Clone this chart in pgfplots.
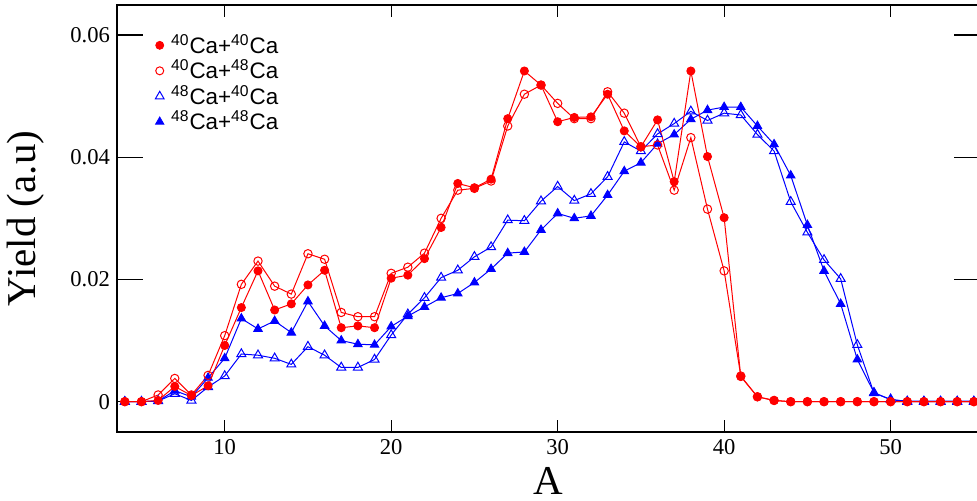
\documentclass[border=0pt]{standalone}
\usepackage{fontspec}
\setmainfont{Liberation Serif}
\newfontfamily\legfont{Liberation Sans}
\newfontfamily\tickfont{Liberation Serif}
\usepackage{pgfplots}
\usepackage{pgfplotstable}
\pgfplotsset{compat=1.18}
\definecolor{cred}{RGB}{255,0,0}
\definecolor{cblue}{RGB}{0,0,255}

\pgfplotstableread{
A  ff    fo    to    tf
4  0      0      0      0
5  0      0      0      0
6  0.0002 0.0011 0.0001 0.0001
7  0.0025 0.0038 0.0013 0.0018
8  0.0010 0.0011 0.0002 0.0008
9  0.0026 0.0043 0.0024 0.0039
10 0.0092 0.0108 0.0042 0.0071
11 0.0154 0.0192 0.0078 0.0136
12 0.0214 0.0230 0.0076 0.0119
13 0.0150 0.0189 0.0071 0.0132
14 0.0160 0.0176 0.0061 0.0113
15 0.0191 0.0242 0.0090 0.0164
16 0.0215 0.0233 0.0076 0.0124
17 0.0121 0.0146 0.0056 0.0100
18 0.0124 0.0139 0.0056 0.0094
19 0.0121 0.0139 0.0069 0.0093
20 0.0202 0.0210 0.0109 0.0123
21 0.0207 0.0220 0.0143 0.0140
22 0.0234 0.0243 0.0170 0.0155
23 0.0285 0.0300 0.0203 0.0170
24 0.0357 0.0346 0.0215 0.0177
25 0.0350 0.0349 0.0237 0.0195
26 0.0364 0.0361 0.0253 0.0217
27 0.0463 0.0451 0.0297 0.0243
28 0.0541 0.0503 0.0296 0.0245
29 0.0518 0.0518 0.0328 0.0281
30 0.0458 0.0488 0.0352 0.0308
31 0.0465 0.0463 0.0329 0.0300
32 0.0466 0.0463 0.0340 0.0304
33 0.0503 0.0507 0.0368 0.0338
34 0.0443 0.0472 0.0425 0.0377
35 0.0417 0.0417 0.0410 0.0391
36 0.0461 0.0420 0.0438 0.0422
37 0.0360 0.0346 0.0455 0.0437
38 0.0541 0.0432 0.0475 0.0462
39 0.0401 0.0315 0.0460 0.0477
40 0.0301 0.0214 0.0472 0.0482
41 0.0041 0.0042 0.0469 0.0482
42 0.0008 0.0008 0.0437 0.0451
43 0.0002 0.0002 0.0410 0.0421
44 0      0      0.0327 0.0370
45 0      0      0.0277 0.0289
46 0      0      0.0232 0.0214
47 0      0      0.0201 0.0160
48 0      0      0.0093 0.0069
49 0      0      0.0014 0.0015
50 0      0      0.0004 0.0003
51 0      0      0      0.0001
52 0      0      0      0.0001
53 0      0      0      0.0001
54 0      0      0      0.0001
55 0      0      0      0.0001
}\datatable

\begin{document}
\begin{tikzpicture}
\begin{axis}[
  at={(58.5pt,34.5pt)}, anchor=south west,
  scale only axis, width=431.5pt, height=213.5pt,
  xmin=3.53, xmax=55.37, ymin=-0.00496, ymax=0.0649,
  xtick={10,20,30,40,50}, ytick={0,0.02,0.04,0.06},
  xticklabels={10,20,30,40,50},
  yticklabels={0,0.02,0.04,0.06},
  scaled y ticks=false,
  tick label style={font=\tickfont\fontsize{11.3}{13}\selectfont},
  xtick style={/pgfplots/major tick length=5.8pt},
  ytick style={/pgfplots/major tick length=13pt},
  tick style={line width=0.6pt, black},
  axis line style={line width=0.7pt, black},
  minor tick num=0,
  xlabel={A}, ylabel={Yield (a.u)},
  label style={font=\fontsize{20.5}{24}\selectfont},
  xlabel style={at={(axis description cs:0.5,-0.1475)}, anchor=base},
  ylabel style={at={(axis description cs:-0.1054,0.5)}, anchor=center},
  legend cell align=left,
  legend image code/.code={\draw[#1] plot coordinates {(0pt,0pt)};},
  legend style={draw=none, fill=none, font=\legfont\fontsize{11.2}{13}\selectfont,
    at={(axis description cs:0,1)}, anchor=north west, xshift=16pt, yshift=-11pt,
    row sep=-1.2pt, column sep=2pt, nodes={inner sep=1.5pt}},
]
\addlegendimage{only marks, mark=*, mark size=2pt, cred, mark options={fill=cred}}
\addlegendentry{\textsuperscript{40}Ca+\textsuperscript{40}Ca}
\addlegendimage{only marks, mark=o, mark size=2pt, cred, mark options={line width=0.5pt}}
\addlegendentry{\textsuperscript{40}Ca+\textsuperscript{48}Ca}
\addlegendimage{only marks, mark=triangle, mark size=2.5pt, cblue, mark options={line width=0.5pt}}
\addlegendentry{\textsuperscript{48}Ca+\textsuperscript{40}Ca}
\addlegendimage{only marks, mark=triangle*, mark size=2.4pt, cblue, mark options={fill=cblue}}
\addlegendentry{\textsuperscript{48}Ca+\textsuperscript{48}Ca}

\addplot[forget plot, cblue, line width=0.5pt, mark=triangle*, mark size=2.4pt, mark options={fill=cblue}] table[x=A, y=tf] {\datatable};
\addplot[forget plot, cblue, line width=0.5pt, mark=triangle, mark size=2.6pt, mark options={fill=none}] table[x=A, y=to] {\datatable};
\addplot[forget plot, cred, line width=0.5pt, mark=o, mark size=2.1pt, mark options={fill=none}] table[x=A, y=fo] {\datatable};
\addplot[forget plot, cred, line width=0.5pt, mark=*, mark size=2pt, mark options={fill=cred}] table[x=A, y=ff] {\datatable};
\end{axis}
\pgfresetboundingbox
\useasboundingbox (0,0) rectangle (488.5pt,250.5pt);
\end{tikzpicture}
\end{document}
